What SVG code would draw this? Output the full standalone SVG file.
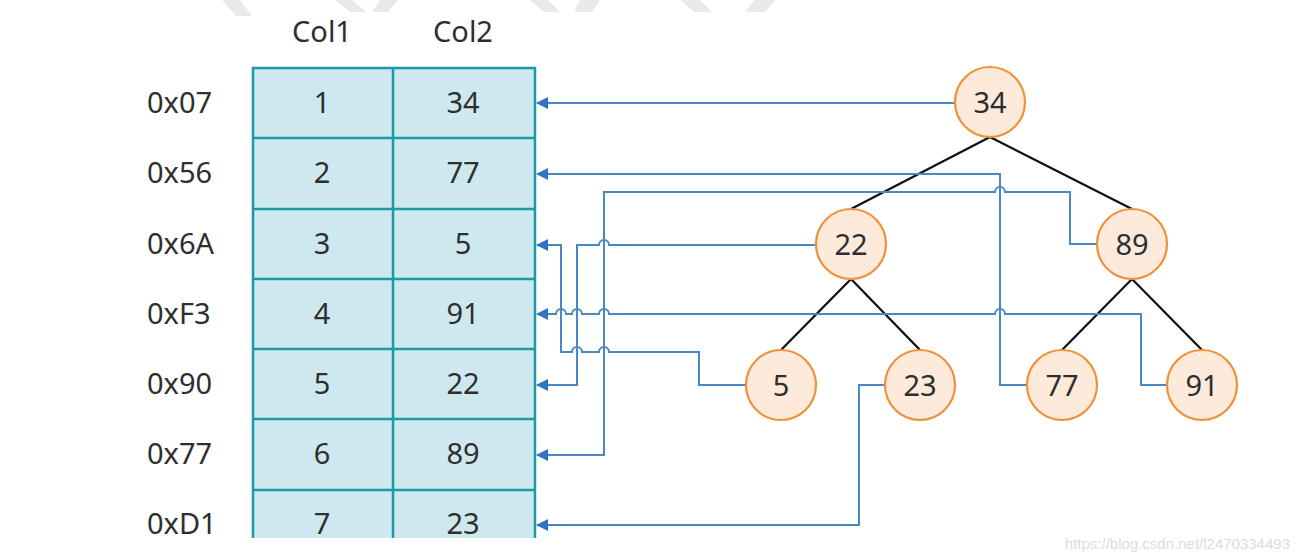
<svg xmlns="http://www.w3.org/2000/svg" width="1301" height="560" viewBox="0 0 1301 560">
<defs>
<style>
.t{font-family:"Noto Sans","Open Sans",sans-serif;font-size:29px;fill:#2e2e2e}
.c{text-anchor:middle}
.cell{fill:#cde9ef;stroke:none}
.grid{stroke:#1c98a6;stroke-width:2.5;fill:none}
.node circle{fill:#fdeadb;stroke:#f0913a;stroke-width:2.2}
.edge{stroke:#111;stroke-width:2.3;fill:none}
.conn path{stroke:#4a87c6;stroke-width:2;fill:none;marker-end:url(#ah)}
.wm{fill:#e9e9e9}
</style>
<marker id="ah" viewBox="0 0 12 12" refX="11" refY="6" markerWidth="12" markerHeight="12" markerUnits="userSpaceOnUse" orient="auto">
<path d="M0,0 L12,6 L0,12 Z" fill="#2f74c0"/>
</marker>
</defs>
<rect width="1301" height="560" fill="#fff"/>
<g id="watermark-top">
<polygon class="wm" points="222,0 240,0 252,16 236,16"/>
<polygon class="wm" points="335,0 352,0 366,12 350,12"/>
<polygon class="wm" points="380,0 398,0 388,12 372,12"/>
<polygon class="wm" points="530,0 548,0 560,12 544,12"/>
<polygon class="wm" points="580,0 600,0 592,12 574,12"/>
<polygon class="wm" points="680,0 700,0 712,12 694,12"/>
<polygon class="wm" points="755,0 775,0 765,12 745,12"/>
</g>
<g id="headers">
<text class="t c" x="322" y="42">Col1</text>
<text class="t c" x="463" y="42">Col2</text>
</g>
<g id="row-labels">
<text class="t" x="147" y="113">0x07</text>
<text class="t" x="147" y="183">0x56</text>
<text class="t" x="147" y="254">0x6A</text>
<text class="t" x="147" y="324">0xF3</text>
<text class="t" x="147" y="394">0x90</text>
<text class="t" x="147" y="464">0x77</text>
<text class="t" x="147" y="534">0xD1</text>
</g>
<g id="table">
<rect class="cell" x="253" y="68" width="282" height="470"/>
<path class="grid" d="M253,538 V68 H535 V538 M393,68 V538 M253,138 H535 M253,209 H535 M253,279 H535 M253,349 H535 M253,419 H535 M253,490 H535"/>
<text class="t c" x="322" y="113">1</text><text class="t c" x="463" y="113">34</text>
<text class="t c" x="322" y="183">2</text><text class="t c" x="463" y="183">77</text>
<text class="t c" x="322" y="254">3</text><text class="t c" x="463" y="254">5</text>
<text class="t c" x="322" y="324">4</text><text class="t c" x="463" y="324">91</text>
<text class="t c" x="322" y="394">5</text><text class="t c" x="463" y="394">22</text>
<text class="t c" x="322" y="464">6</text><text class="t c" x="463" y="464">89</text>
<text class="t c" x="322" y="534">7</text><text class="t c" x="463" y="534">23</text>
</g>
<g id="tree-edges">
<path class="edge" d="M990,137 L851,209 M990,137 L1132,209 M851,279 L781,350 M851,279 L920,350 M1132,279 L1062,350 M1132,279 L1202,350"/>
</g>
<g id="connectors" class="conn">
<path d="M955,103 H537"/>
<path d="M1027,385 H1000 V174 H537"/>
<path d="M1097,244 H1070 V192 H1005 A5,5 0 0 0 995,192 H604 V455 H537"/>
<path d="M816,245 H609 A5,5 0 0 0 599,245 H577 V385 H537"/>
<path d="M745,385 H699 V352 H609 A5,5 0 0 0 599,352 H582 A5,5 0 0 0 572,352 H561 V245 H537"/>
<path d="M1167,385 H1141 V314 H1005 A5,5 0 0 0 995,314 H609 A5,5 0 0 0 599,314 H582 A5,5 0 0 0 572,314 H566 A5,5 0 0 0 556,314 H537"/>
<path d="M885,385 H859 V525 H537"/>
</g>
<g id="n34" class="node"><circle cx="990" cy="102" r="35"/><text class="t c" x="990" y="113">34</text></g>
<g id="n22" class="node"><circle cx="851" cy="244" r="35"/><text class="t c" x="851" y="255">22</text></g>
<g id="n89" class="node"><circle cx="1132" cy="244" r="35"/><text class="t c" x="1132" y="255">89</text></g>
<g id="n5" class="node"><circle cx="781" cy="385" r="35"/><text class="t c" x="781" y="396">5</text></g>
<g id="n23" class="node"><circle cx="920" cy="385" r="35"/><text class="t c" x="920" y="396">23</text></g>
<g id="n77" class="node"><circle cx="1062" cy="385" r="35"/><text class="t c" x="1062" y="396">77</text></g>
<g id="n91" class="node"><circle cx="1202" cy="385" r="35"/><text class="t c" x="1202" y="396">91</text></g>
<text x="1290" y="549" text-anchor="end" style="font-family:'Liberation Sans',Arial,sans-serif;font-size:15px;fill:#dcdcdc">https://blog.csdn.net/l2470334493</text>
</svg>
